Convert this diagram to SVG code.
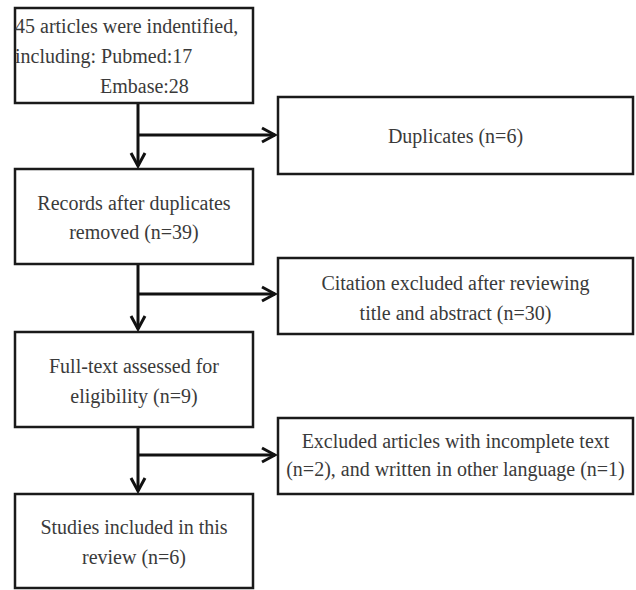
<svg xmlns="http://www.w3.org/2000/svg" width="636" height="590" viewBox="0 0 636 590">
<style>
.box{fill:#fff;stroke:#1a1a1a;stroke-width:2.5}
.t{font-family:"Liberation Serif","Times New Roman",serif;font-size:20px;fill:#3a3a3a}
.c{text-anchor:middle}
.ln{stroke:#111;stroke-width:3;fill:none}
</style>
<defs>
<marker id="ah" markerUnits="userSpaceOnUse" markerWidth="18" markerHeight="18" viewBox="0 0 18 18" refX="15" refY="9" orient="auto">
<path d="M2,2 L15,9 L2,16" fill="none" stroke="#111" stroke-width="3"/>
</marker>
</defs>
<rect width="636" height="590" fill="#fff"/>
<g id="connectors">
<path class="ln" d="M138,103 V166" marker-end="url(#ah)"/>
<path class="ln" d="M138,135 H275" marker-end="url(#ah)"/>
<path class="ln" d="M138,264 V329" marker-end="url(#ah)"/>
<path class="ln" d="M138,294 H275" marker-end="url(#ah)"/>
<path class="ln" d="M138,427 V491" marker-end="url(#ah)"/>
<path class="ln" d="M138,455 H275" marker-end="url(#ah)"/>
</g>
<g id="identified">
<rect class="box" x="15" y="8" width="238" height="95"/>
<text class="t" x="15" y="33">45 articles were indentified,</text>
<text class="t" x="15" y="63">including: Pubmed:17</text>
<text class="t" x="100" y="93">Embase:28</text>
</g>
<g id="duplicates">
<rect class="box" x="278" y="97" width="355" height="77"/>
<text class="t c" x="455.5" y="143">Duplicates (n=6)</text>
</g>
<g id="records">
<rect class="box" x="15" y="169" width="238" height="95"/>
<text class="t c" x="134" y="210">Records after duplicates</text>
<text class="t c" x="134" y="239">removed (n=39)</text>
</g>
<g id="citation">
<rect class="box" x="278" y="258" width="355" height="76"/>
<text class="t c" x="455.5" y="290">Citation excluded after reviewing</text>
<text class="t c" x="455.5" y="320">title and abstract (n=30)</text>
</g>
<g id="fulltext">
<rect class="box" x="15" y="332" width="238" height="95"/>
<text class="t c" x="134" y="373">Full-text assessed for</text>
<text class="t c" x="134" y="403">eligibility (n=9)</text>
</g>
<g id="excluded">
<rect class="box" x="278" y="418" width="355" height="76"/>
<text class="t c" x="455.5" y="448">Excluded articles with incomplete text</text>
<text class="t c" x="455.5" y="476">(n=2), and written in other language (n=1)</text>
</g>
<g id="included">
<rect class="box" x="15" y="494" width="238" height="94"/>
<text class="t c" x="134" y="534">Studies included in this</text>
<text class="t c" x="134" y="564">review (n=6)</text>
</g>
</svg>
